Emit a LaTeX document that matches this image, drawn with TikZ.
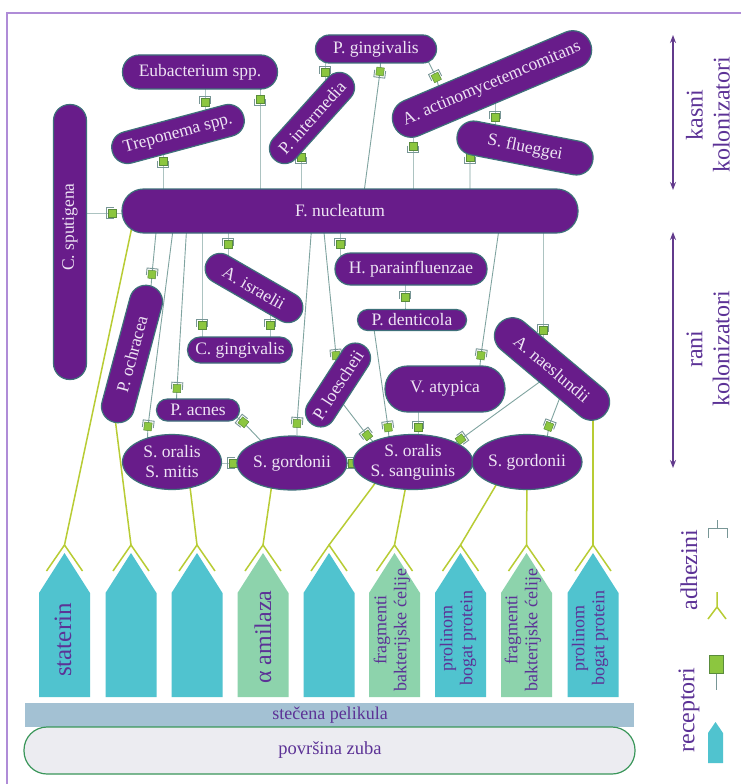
\documentclass[tikz,border=0pt]{standalone}
\usepackage{fontspec}
\setmainfont{Liberation Serif}
\usetikzlibrary{shapes.geometric,calc,arrows.meta}
\definecolor{bacfill}{RGB}{104,28,138}
\definecolor{bacbord}{RGB}{62,112,122}
\definecolor{bactext}{RGB}{238,228,244}
\definecolor{linec}{RGB}{128,164,160}
\definecolor{cupc}{RGB}{120,150,150}
\definecolor{sqg}{RGB}{140,198,63}
\definecolor{sqd}{RGB}{90,140,60}
\definecolor{yelg}{RGB}{184,204,52}
\definecolor{teal1}{RGB}{80,195,207}
\definecolor{mint}{RGB}{141,211,172}
\definecolor{pelc}{RGB}{163,193,211}
\definecolor{toothf}{RGB}{236,236,241}
\definecolor{toothd}{RGB}{58,150,90}
\definecolor{txtp}{RGB}{92,50,150}
\definecolor{arrc}{RGB}{98,58,140}
\definecolor{framec}{RGB}{175,140,215}
\pgfdeclarelayer{bg}
\pgfdeclarelayer{bgback}
\pgfsetlayers{bgback,bg,main}
\tikzset{
 bac/.style={draw=bacbord, line width=1.2pt, fill=bacfill, text=bactext, font=\fontsize{17.5}{20}\selectfont, inner sep=0pt, align=center},
 pill/.style 2 args={bac, rectangle, minimum width=#1pt, minimum height=#2pt, rounded corners={#2*0.49pt}},
 ell/.style 2 args={bac, ellipse, minimum width=#1pt, minimum height=#2pt},
 lbl/.style={text=bactext, font=\fontsize{17.5}{20}\selectfont, inner sep=0pt},
 cl/.style={draw=linec, line width=0.9pt},
 yl/.style={draw=yelg, line width=1.5pt},
 htxt/.style={rotate=90, text=txtp, inner sep=0pt, align=center, font=\fontsize{25}{28}\selectfont},
 htxtb/.style={rotate=90, text=txtp, inner sep=0pt, align=center, font=\fontsize{18}{20}\selectfont},
 side/.style={rotate=90, text=txtp, inner sep=0pt, align=center, font=\fontsize{24}{27}\selectfont},
 btxt/.style={text=txtp, inner sep=0pt, font=\fontsize{18}{20}\selectfont},
 dar/.style={draw=arrc, line width=1.6pt, <->, >={Stealth[length=8pt,width=6pt]}},
 rc/.pic={
   \draw[cupc, line width=0.9pt] (1.5,-5.5) -- (-5.5,-5.5) -- (-5.5,5.5) -- (1.5,5.5);
   \draw[draw=sqd, fill=sqg, line width=0.5pt] (-3.5,-3.8) rectangle (4.5,3.8);
 }
}
\newcommand\cnx[5]{%
 \coordinate (tA) at ($(#1)+(#2)$);
 \coordinate (tS) at (#3);
 \coordinate (tB) at ($(#4)+(#5)$);
 \draw[cl] (tA) -- (tS) -- (tB);
 \path let \p1=($(tS)-(tA)$), \n1={atan2(\y1,\x1)} in (tS) pic[rotate=\n1]{rc};
}
\newcommand\house[2]{%
 \fill[#2] (#1-25.5,697) -- (#1-25.5,593) -- (#1,553) -- (#1+25.5,593) -- (#1+25.5,697) -- cycle;
}
\begin{document}
\begin{tikzpicture}[x=1pt,y=-1pt]
\useasboundingbox (0,0) rectangle (741,784);
\begin{pgfonlayer}{bgback}
\fill[white] (0,0) rectangle (741,784);
\end{pgfonlayer}
\draw[framec, line width=1.5pt] (741,13) -- (7,13) -- (7,784);

% bacteria
\node[pill={155}{34}] (eub) at (200,72) {Eubacterium spp.};
\node[pill={136}{32}, rotate=15] (trep) at (178,134) {Treponema spp.};
\node[pill={121}{28}] (pging) at (376,49) {P. gingivalis};
\node[pill={112}{30}, rotate=48] (pint) at (312,118) {P. intermedia};
\node[pill={213}{38}, rotate=23] (aact) at (492,84) {A. actinomycetemcomitans};
\node[pill={138}{34}, rotate=-11] (sflu) at (525,148) {S. flueggei};
\node[pill={275}{33}, rotate=90] (csput) at (70,242) {};
\node[lbl, rotate=90] (csputt) at (70,227) {C. sputigena};
\node[pill={456}{44}] (fnuc) at (350,211) {};
\node[lbl] (fnuct) at (340,211) {F. nucleatum};
\node[pill={141}{33}, rotate=75] (pochr) at (132,354) {P. ochracea};
\node[pill={108}{30}, rotate=-30] (aisr) at (254,288) {A. israelii};
\node[pill={105}{26}] (cging) at (240,350) {C. gingivalis};
\node[pill={83}{22}] (pacn) at (198,410) {P. acnes};
\node[ell={99}{55}] (som) at (172,462) {S. oralis\\S. mitis};
\node[ell={99}{54}] (sgl) at (292,463) {S. gordonii};
\node[pill={94}{30}, rotate=57] (ploe) at (338,385) {P. loescheii};
\node[pill={152}{32}] (hpar) at (411,269) {H. parainfluenzae};
\node[pill={109}{21}] (pden) at (412,320) {P. denticola};
\node[pill={120}{46}] (vaty) at (445,389) {V. atypica};
\node[pill={139}{36}, rotate=-40] (anae) at (552,369) {A. naeslundii};
\node[ell={99}{55}] (sos) at (413,462) {S. oralis\\S. sanguinis};
\node[ell={100}{55}] (sgr) at (527,462) {S. gordonii};

\begin{pgfonlayer}{bg}
\cnx{eub}{5,8}{205,102}{trep}{27,-16}
\cnx{fnuc}{-90,-11}{260,100}{eub}{60,8}
\cnx{fnuc}{-187,-11}{163,162}{trep}{-15,6}
\cnx{pging}{-51,6}{325,72}{pint}{13,-23}
\cnx{fnuc}{-49,-11}{301,158}{pint}{-11,22}
\cnx{fnuc}{13,-11}{380,72}{pging}{5,6}
\cnx{pging}{49,6}{436,77}{aact}{-51,11}
\cnx{aact}{3,11}{495,117}{sflu}{-30,-8}
\cnx{fnuc}{63,-11}{413,147}{aact}{-79,36}
\cnx{fnuc}{120,-11}{470,158}{sflu}{-53,-8}
\cnx{csput}{5,-29}{112,213}{fnuc}{-215,2}
\cnx{fnuc}{-193,11}{152,274}{pochr}{18,-54}
\cnx{fnuc}{-176,11}{148,426}{som}{-25,-12}
\cnx{fnuc}{-163,11}{177,388}{pacn}{-22,0}
\cnx{fnuc}{-148,11}{202,325}{cging}{-38,0}
\cnx{fnuc}{-122,11}{228,244}{aisr}{-26,-16}
\cnx{aisr}{16,9}{270,325}{cging}{30,0}
\cnx{fnuc}{-10,11}{340,244}{hpar}{-71,0}
\cnx{fnuc}{-38,11}{297,423}{sgl}{5,-8}
\cnx{fnuc}{-27,11}{336,355}{ploe}{0,-5}
\cnx{hpar}{-6,6}{405,297}{pden}{-7,0}
\cnx{pden}{-39,2}{388,427}{sos}{-23,-14}
\cnx{fnuc}{150,11}{481,355}{vaty}{33,-4}
\cnx{fnuc}{193,11}{543,330}{anae}{-9,-14}
\cnx{vaty}{-27,11}{418,427}{sos}{5,-12}
\cnx{ploe}{2,15}{367,435}{sos}{-28,-7}
\cnx{pacn}{30,0}{243,422}{sgl}{-27,-18}
\cnx{som}{28,1}{233,463}{sgl}{-27,0}
\cnx{sgl}{28,0}{352,463}{sos}{-28,1}
\cnx{sos}{27,0}{469,462}{sgr}{-27,0}
\cnx{anae}{-7,9}{461,439}{sos}{27,-10}
\cnx{anae}{10,23}{549,426}{sgr}{18,-12}
% adhesins to receptors
\coordinate (f1) at (64.5,545);
\coordinate (f2) at (131,545);
\coordinate (f3) at (197,545);
\coordinate (f4) at (263,545);
\coordinate (f5) at (329,545);
\coordinate (f6) at (394.5,545);
\coordinate (f7) at (460.5,545);
\coordinate (f8) at (526.5,545);
\coordinate (f9) at (593,545);
\draw[yl] ($(fnuc)+(-217,11)$) -- (f1);
\draw[yl] ($(pochr)+(-18,56)$) -- (f2);
\draw[yl] ($(som)+(16,8)$) -- (f3);
\draw[yl] ($(sgl)+(-18,7)$) -- (f4);
\draw[yl] ($(sos)+(-28,8)$) -- (f5);
\draw[yl] ($(sos)+(-5,13)$) -- (f6);
\draw[yl] ($(sgr)+(-22,8)$) -- (f7);
\draw[yl] ($(sgr)+(0,13)$) -- (f8);
\draw[yl] ($(anae)+(41,36)$) -- (f9);
\end{pgfonlayer}
\foreach \h in {64.5,131,197,263,329,394.5,460.5,526.5,593}
  \draw[yl] (\h-18,571) -- (\h,545) -- (\h+18,571);

% receptors
\house{64.5}{teal1}
\house{131}{teal1}
\house{197}{teal1}
\house{263}{mint}
\house{329}{teal1}
\house{394.5}{mint}
\house{460.5}{teal1}
\house{526.5}{mint}
\house{593}{teal1}
\node[htxt] (h1t) at (63,640) {staterin};
\node[htxt, font=\fontsize{24}{27}\selectfont] (h4t) at (263,637) {α amilaza};
\node[htxtb] (h6t) at (392,630) {fragmenti\\bakterijske ćelije};
\node[htxtb] (h7t) at (458,638) {prolinom\\bogat protein};
\node[htxtb] (h8t) at (523,630) {fragmenti\\bakterijske ćelije};
\node[htxtb] (h9t) at (590,638) {prolinom\\bogat protein};

% pellicle and tooth
\fill[pelc] (25,703) rectangle (634,727);
\node[btxt] (pel) at (330,715) {stečena pelikula};
\draw[fill=toothf, draw=toothd, line width=1.2pt, rounded corners=23pt] (24,727) rectangle (635,774);
\node[btxt, font=\fontsize{18.5}{20}\selectfont] (zub) at (330,750) {površina zuba};

% right side
\coordinate (k1) at (673,35);
\coordinate (k2) at (673,190);
\coordinate (r1) at (673,232);
\coordinate (r2) at (673,468);
\draw[dar] (k1) -- (k2);
\draw[dar] (r1) -- (r2);
\node[side] (kasni) at (708,115) {kasni\\kolonizatori};
\node[side] (rani) at (708,349) {rani\\kolonizatori};

% legend
\node[side] (adh) at (689,570) {adhezini};
\node[side] (rec) at (689,710) {receptori};
\draw[cupc, line width=1pt] (717,520) -- (717,528) (708,538) -- (708,528) -- (727,528) -- (727,538);
\draw[yl] (717,592) -- (717,607) (708,619) -- (717,607) -- (726,619);
\draw[cupc, line width=1pt] (716,673) -- (716,690);
\draw[draw=sqd, fill=sqg, line width=0.6pt] (709,655) rectangle (723,673);
\fill[teal1] (708,763) -- (708,733) -- (715.5,722) -- (723,733) -- (723,763) -- cycle;
\end{tikzpicture}
\end{document}
